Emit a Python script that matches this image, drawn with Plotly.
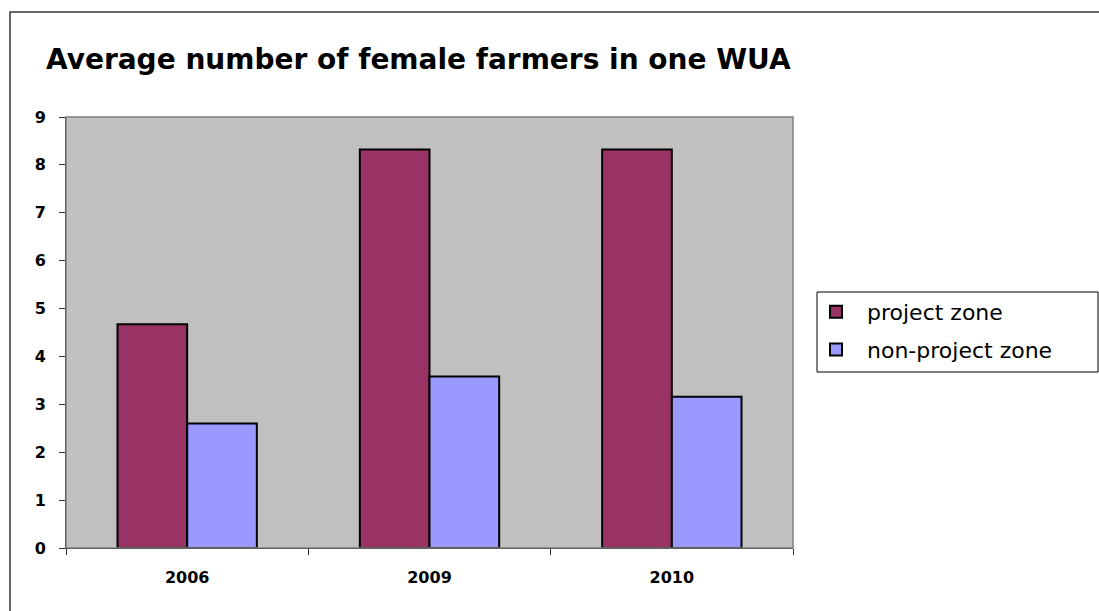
import plotly.graph_objects as go

# Survey years on the category axis
years = ["2006", "2009", "2010"]

# Average count of female farmers per water users' association
project_zone = [4.67, 8.32, 8.32]
non_project_zone = [2.6, 3.58, 3.16]

series_names = ["project zone", "non-project zone"]
y_ticks = [0, 1, 2, 3, 4, 5, 6, 7, 8, 9]

W, H = 1099, 611
L, R, T, B = 66, 306, 117, 63
PW, PH = W - L - R, H - T - B

FONT = "DejaVu Sans, Verdana, sans-serif"

fig = go.Figure()
fig.add_trace(go.Bar(
    x=years, y=project_zone, name=series_names[0], legendgroup="a",
    marker=dict(color="#993366", line=dict(color="black", width=2)),
))
fig.add_trace(go.Bar(
    x=years, y=non_project_zone, name=series_names[1], legendgroup="b",
    marker=dict(color="#9999FF", line=dict(color="black", width=2)),
))

tick_font = dict(family=FONT, size=16, color="black", weight="bold")

fig.update_layout(
    width=W, height=H,
    margin=dict(l=L, r=R, t=T, b=B),
    paper_bgcolor="white",
    plot_bgcolor="#C0C0C0",
    barmode="group",
    bargap=0.425,
    bargroupgap=0,
    title=dict(
        text="Average number of female farmers in one WUA",
        x=46 / W, xanchor="left", xref="container",
        y=1 - 59 / H, yanchor="middle", yref="container",
        font=dict(family=FONT, size=28, color="black", weight="bold"),
    ),
    xaxis=dict(
        type="category",
        showgrid=False,
        showline=True, linecolor="black", linewidth=1,
        ticks="outside", ticklen=6, tickcolor="#333333",
        tickson="boundaries",
        tickfont=tick_font,
        ticklabelstandoff=15,
    ),
    yaxis=dict(
        range=[0, 9],
        tickvals=y_ticks,
        showgrid=False, zeroline=False,
        showline=True, linecolor="black", linewidth=1,
        ticks="outside", ticklen=6, tickcolor="#333333",
        tickfont=tick_font,
        ticklabelstandoff=10,
    ),
    legend=dict(
        x=(805 - L) / PW, xanchor="left",
        y=(H - B - 291) / PH, yanchor="top",
        font=dict(family=FONT, size=22, color="black"),
        bgcolor="rgba(0,0,0,0)",
        borderwidth=0,
        traceorder="grouped",
        tracegroupgap=6,
        itemwidth=52,
    ),
    shapes=[
        # outer chart frame
        dict(type="rect", xref="paper", yref="paper",
             x0=(10 - L) / PW, x1=1.6,
             y0=-0.3, y1=(H - B - 12) / PH,
             line=dict(color="#333333", width=1.5), layer="below"),
        # plot area border
        dict(type="rect", xref="paper", yref="paper", x0=0, x1=1, y0=0, y1=1,
             line=dict(color="#808080", width=1.5)),
        # legend box
        dict(type="rect", xref="paper", yref="paper",
             x0=(817 - L) / PW, x1=(1098 - L) / PW,
             y0=(H - B - 372) / PH, y1=(H - B - 292) / PH,
             line=dict(color="black", width=1)),
    ],
)

fig.write_html("out.html")
